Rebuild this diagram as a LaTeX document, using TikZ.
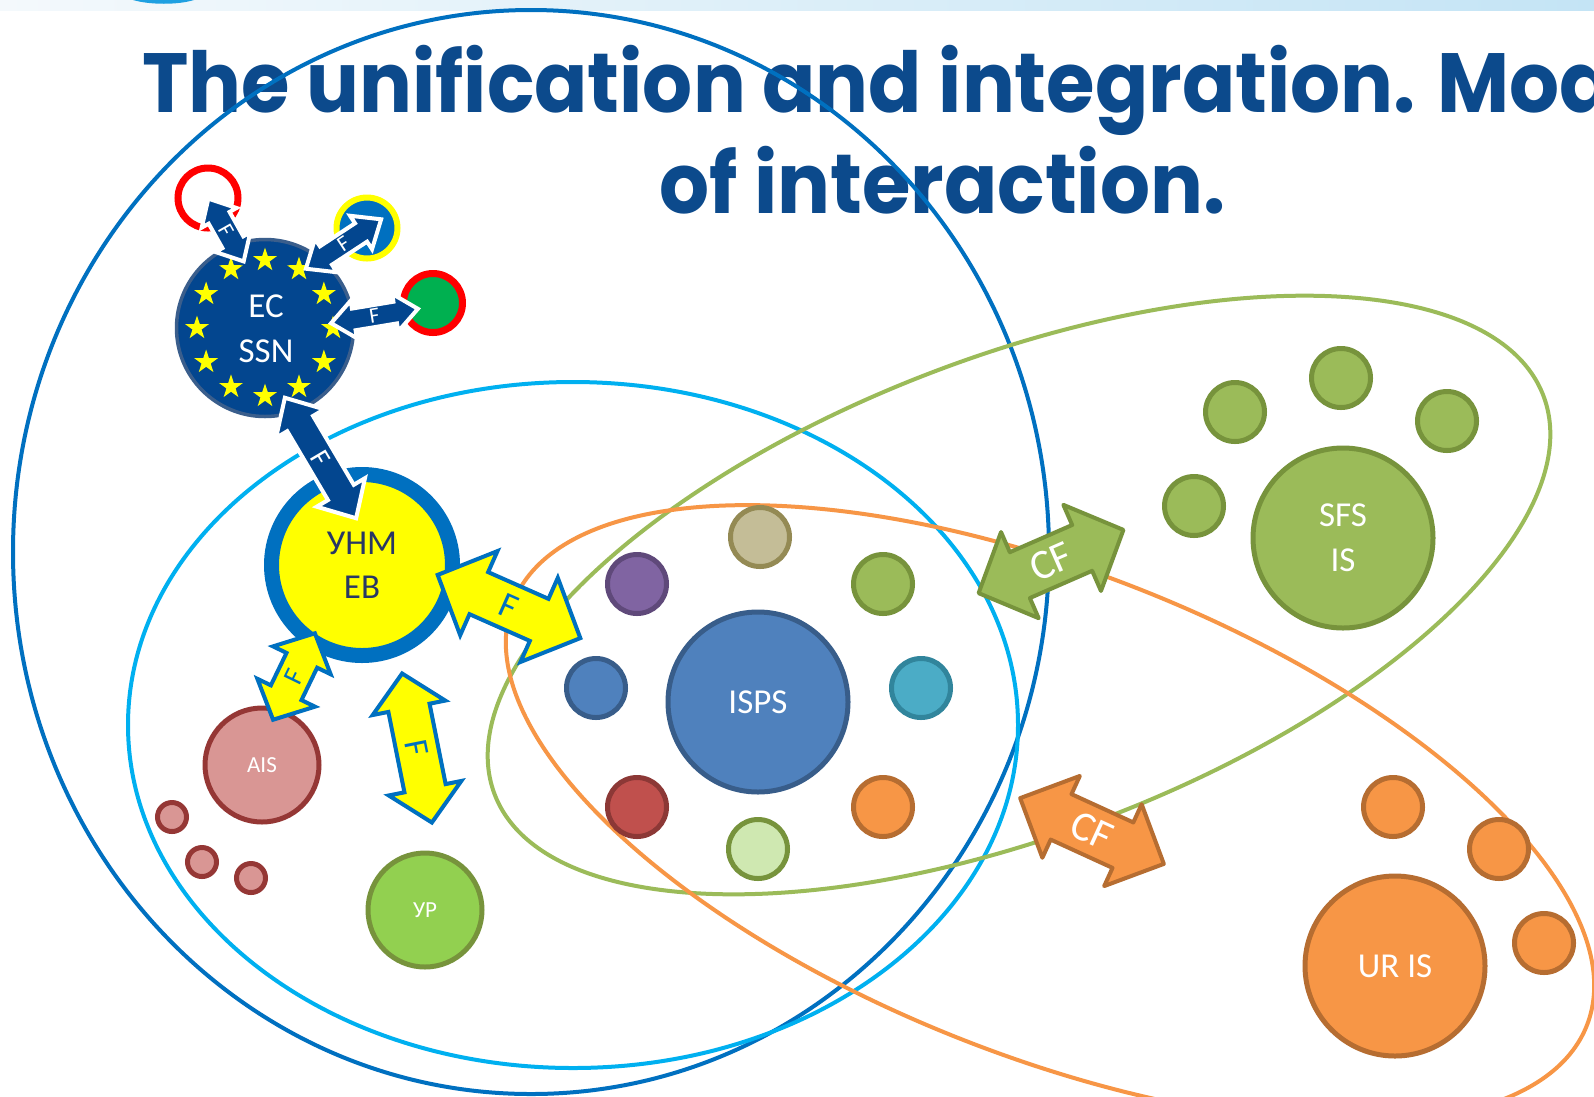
\documentclass[tikz,border=0pt]{standalone}
\usepackage{fontspec}
\setmainfont{Carlito}
\newfontfamily\titlefont{Poppins}
\usetikzlibrary{shapes.geometric}
\definecolor{ttl}{RGB}{12,74,140}
\definecolor{dblue}{RGB}{0,112,192}
\definecolor{lblue}{RGB}{0,176,240}
\definecolor{ogreen}{RGB}{155,187,89}
\definecolor{ogreenD}{RGB}{119,147,60}
\definecolor{oorange}{RGB}{247,150,70}
\definecolor{oorangeD}{RGB}{182,109,49}
\definecolor{ecblue}{RGB}{3,70,143}
\definecolor{ecedge}{RGB}{58,94,140}
\definecolor{ispsb}{RGB}{79,129,189}
\definecolor{ispsbD}{RGB}{56,93,138}
\definecolor{tanA}{RGB}{196,189,151}
\definecolor{tanD}{RGB}{148,138,84}
\definecolor{purp}{RGB}{128,100,162}
\definecolor{purpD}{RGB}{95,73,122}
\definecolor{tealA}{RGB}{75,172,198}
\definecolor{tealD}{RGB}{49,133,156}
\definecolor{redA}{RGB}{192,80,77}
\definecolor{redD}{RGB}{140,56,54}
\definecolor{lgreen}{RGB}{207,232,177}
\definecolor{pinkA}{RGB}{217,150,148}
\definecolor{pinkD}{RGB}{149,55,53}
\definecolor{ypg}{RGB}{146,208,80}
\definecolor{uhmtext}{RGB}{40,55,100}
\definecolor{stripL}{RGB}{244,249,252}
\definecolor{stripR}{RGB}{196,228,245}
\definecolor{logo}{RGB}{30,160,225}
\definecolor{pyellow}{RGB}{255,255,0}
\definecolor{ringred}{RGB}{255,0,0}
\definecolor{ggreen}{RGB}{0,176,80}
\tikzset{
 outline/.style={line width=4pt},
 bigc/.style={circle, minimum size=180pt, inner sep=0pt, line width=5pt, text=white, font=\fontsize{35}{45}\selectfont, align=center},
 satc/.style={circle, minimum size=59pt, inner sep=0pt, line width=5pt},
 midc/.style={circle, minimum size=114pt, inner sep=0pt, line width=5pt, text=white, font=\fontsize{23}{26}\selectfont},
 tinyc/.style={circle, minimum size=29pt, inner sep=0pt, line width=5pt, fill=pinkA, draw=pinkD},
 ringc/.style={circle, minimum size=60pt, inner sep=0pt, line width=7pt},
 starA/.style={star, star points=5, star point ratio=2.6, fill=pyellow, minimum size=25pt, inner sep=0pt},
 darr/.style={fill=ecblue, draw=white, line width=4pt, line join=miter},
 yarr/.style={fill=pyellow, draw=dblue, line width=4pt, line join=miter},
 garr/.style={fill=ogreen, draw=ogreenD, line width=4pt, line join=round},
 oarr/.style={fill=oorange, draw=oorangeD, line width=4pt, line join=round},
 albl/.style={inner sep=0pt},
 ttlstyle/.style={anchor=base west, inner sep=0pt, text=ttl, font=\titlefont\bfseries\fontsize{84}{84}\selectfont},
}
% #1 name, #2 centre, #3 angle, #4 half length, #5 shaft half width, #6 head half width, #7 head length, #8 style, #9 label
\newcommand\blockarrow[9]{%
 \begin{scope}[shift={#2}, rotate=#3]
 \draw[#8] (-#4,0) -- ({-#4+#7},#6) -- ({-#4+#7},#5) -- ({#4-#7},#5) -- ({#4-#7},#6) -- (#4,0)
   -- ({#4-#7},-#6) -- ({#4-#7},-#5) -- ({-#4+#7},-#5) -- ({-#4+#7},-#6) -- cycle;
 \node[albl, rotate=#3] (#1) at (0,0) {#9};
 \end{scope}}
\begin{document}
\begin{tikzpicture}[x=1pt,y=-1pt]
\useasboundingbox (0,0) rectangle (1594,1096);
\clip (0,0) rectangle (1594,1096);
\fill[white] (0,0) rectangle (1594,1096);
\shade[left color=stripL, right color=stripR] (0,0) rectangle (1594,10);
\fill[logo] (133,0) .. controls (150,5) and (178,5) .. (194,0) -- cycle;

% title
\node[ttlstyle] (t1) at (142,112) {\scalebox{0.935}[1]{The unification and integration. Mod}};
\node[ttlstyle] (t2) at (659,213) {\scalebox{0.935}[1]{of interaction.}};

% ellipses
\draw[outline, draw=dblue] (531,552) ellipse [x radius=518, y radius=542];
\draw[outline, draw=lblue] (573,725) ellipse [x radius=445, y radius=343];
\draw[outline, draw=ogreen, rotate around={20.8:(1019,595)}] (1019,595) ellipse [x radius=561, y radius=239];
\draw[outline, draw=oorange, rotate around={-21.5:(1050,814)}] (1050,814) ellipse [x radius=577, y radius=242];

% ISPS cluster
\node[bigc, fill=ispsb, draw=ispsbD] (isps) at (758,702) {ISPS};
\node[satc, fill=tanA, draw=tanD] (s1) at (760,537) {};
\node[satc, fill=purp, draw=purpD] (s2) at (637,584) {};
\node[satc, fill=ogreen, draw=ogreenD] (s3) at (883,584) {};
\node[satc, fill=ispsb, draw=ispsbD] (s4) at (596,688) {};
\node[satc, fill=tealA, draw=tealD] (s5) at (921,688) {};
\node[satc, fill=redA, draw=redD] (s6) at (637,807) {};
\node[satc, fill=lgreen, draw=ogreenD] (s7) at (758,849) {};
\node[satc, fill=oorange, draw=oorangeD] (s8) at (883,807) {};

% SFS cluster
\node[bigc, fill=ogreen, draw=ogreenD] (sfs) at (1343,538) {SFS\\IS};
\node[satc, fill=ogreen, draw=ogreenD] (f1) at (1235,412) {};
\node[satc, fill=ogreen, draw=ogreenD] (f2) at (1341,378) {};
\node[satc, fill=ogreen, draw=ogreenD] (f3) at (1447,421) {};
\node[satc, fill=ogreen, draw=ogreenD] (f4) at (1194,506) {};

% UR cluster
\node[bigc, fill=oorange, draw=oorangeD] (ur) at (1395,966) {UR IS};
\node[satc, fill=oorange, draw=oorangeD] (u1) at (1393,807) {};
\node[satc, fill=oorange, draw=oorangeD] (u2) at (1499,849) {};
\node[satc, fill=oorange, draw=oorangeD] (u3) at (1544,943) {};

% AIS, tiny, YP
\node[midc, fill=pinkA, draw=pinkD] (ais) at (262,765) {AIS};
\node[tinyc] (a1) at (172,817) {};
\node[tinyc] (a2) at (202,862) {};
\node[tinyc] (a3) at (251,878) {};
\node[midc, fill=ypg, draw=ogreenD] (yp) at (425,910) {УР};

% EC SSN
\node[circle, minimum size=177pt, inner sep=0pt, line width=3.5pt, fill=ecblue, draw=ecedge] (ec) at (265,328) {};
\foreach \a in {0,30,...,330} \node[starA] (st\a) at ([shift={(\a:68)}]ec.center) {};
\node[text=white, align=center, font=\fontsize{35}{45}\selectfont, inner sep=0pt] (ect) at (266,329) {EC\\SSN};
\node[ringc, fill=white, draw=ringred] (r1) at (208,198) {};
\node[ringc, minimum size=61pt, line width=6pt, fill=dblue, draw=pyellow] (r2) at (367,228) {};
\node[ringc, minimum size=59pt, fill=ggreen, draw=ringred] (r3) at (433,303) {};

% UHM EB
\node[circle, minimum size=181pt, inner sep=0pt, line width=15pt, fill=pyellow, draw=dblue, text=uhmtext, align=center, font=\fontsize{35}{44}\selectfont] (uhm) at (362,565) {УНМ\\EB};

% arrows
\blockarrow{fa1}{(226,230)}{-60.6}{36}{12}{20}{22}{darr}{\textcolor{white}{\fontsize{22}{22}\selectfont F}}
\blockarrow{fa2}{(343.5,244)}{33.3}{45}{11}{20}{24}{darr}{\textcolor{white}{\fontsize{22}{22}\selectfont F}}
\blockarrow{fa3}{(374.5,316)}{9.4}{44}{11}{19}{23}{darr}{\textcolor{white}{\fontsize{22}{22}\selectfont F}}
\blockarrow{fa4}{(320.5,458)}{-59.4}{70}{15}{28}{30}{darr}{\textcolor{white}{\fontsize{28}{28}\selectfont F}}
\blockarrow{fa5}{(509,606.5)}{-23.9}{78}{23}{46}{45}{yarr}{\textcolor{dblue}{\fontsize{36}{36}\selectfont F}}
\blockarrow{fa6}{(294,676.5)}{64.2}{48}{17}{32}{30}{yarr}{\textcolor{dblue}{\fontsize{28}{28}\selectfont F}}
\blockarrow{fa7}{(417,748)}{-78.7}{76}{21}{37}{35}{yarr}{\textcolor{dblue}{\fontsize{34}{34}\selectfont F}}
\blockarrow{cf1}{(1051,561.5)}{23.6}{79}{25}{47}{45}{garr}{\textcolor{white}{\fontsize{42}{42}\selectfont CF}}
\blockarrow{cf2}{(1092,831)}{-24.6}{79}{25}{45}{45}{oarr}{\textcolor{white}{\fontsize{42}{42}\selectfont CF}}
\end{tikzpicture}
\end{document}
